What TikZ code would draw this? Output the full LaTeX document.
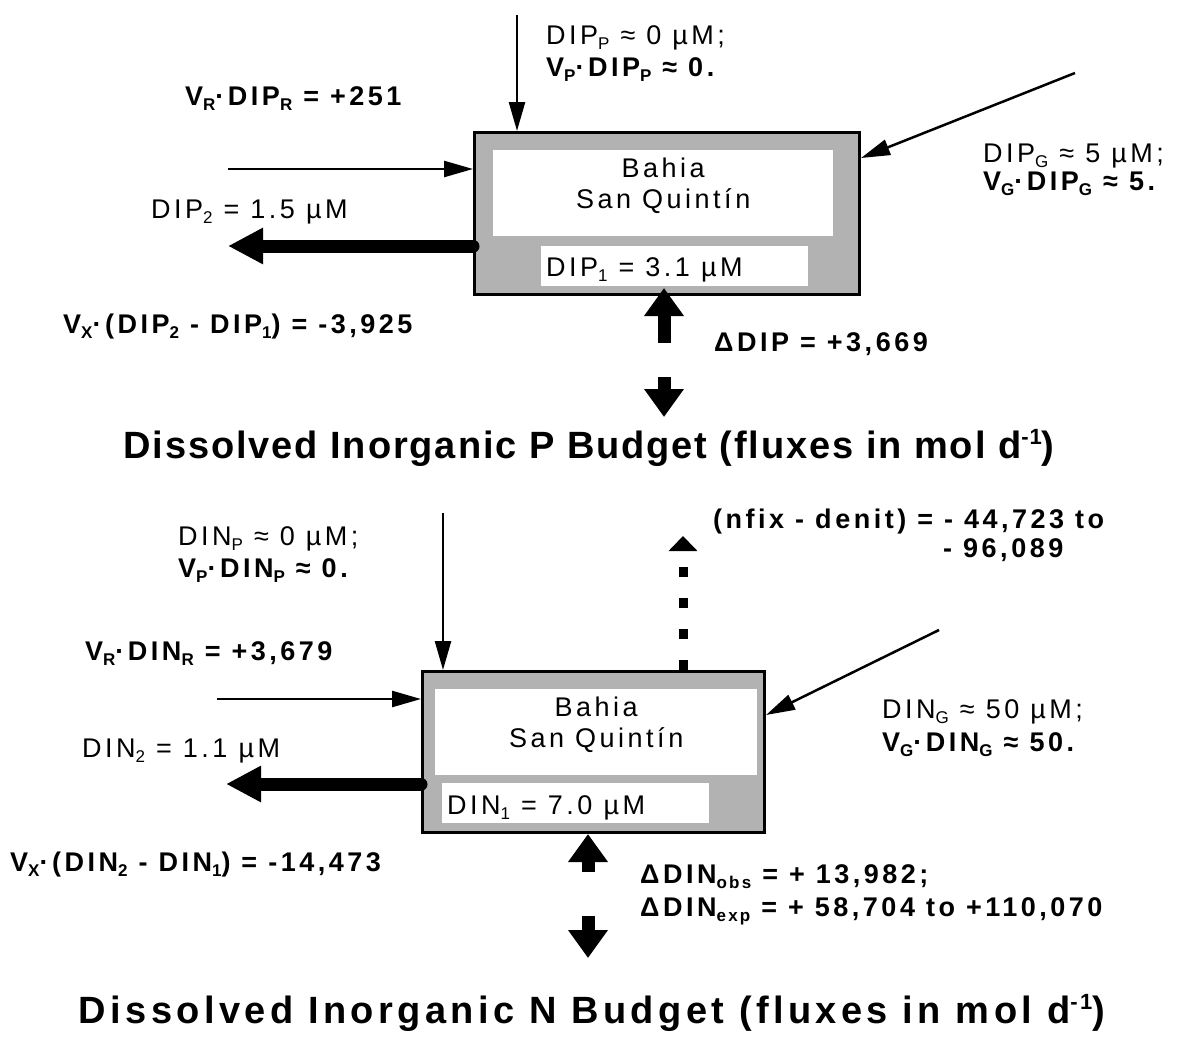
\documentclass[tikz,border=0pt]{standalone}
\usepackage{fontspec}
\setmainfont{Liberation Sans}
\newfontfamily\bayfont[LetterSpace=13]{Liberation Sans}
\newfontfamily\headfont[LetterSpace=5]{Liberation Sans}
\newfontfamily\headfontN[LetterSpace=11.5]{Liberation Sans}
\usetikzlibrary{calc,positioning,arrows.meta}
\newcommand\lo[1]{\raisebox{-5pt}{\fontsize{17}{17}\selectfont #1}}
\newcommand\hi[1]{\raisebox{14pt}{\fontsize{22}{22}\selectfont #1}}

\begin{document}
\begin{tikzpicture}[x=1pt,y=-1pt,
  bay/.style={draw,line width=3pt,fill=gray!60,anchor=north west,inner sep=0pt},
  pane/.style={fill=white,anchor=north west,inner sep=0pt},
  lbl/.style={font=\bayfont\fontsize{27}{31}\selectfont,anchor=base west,inner sep=0pt},
  blbl/.style={lbl,font=\bayfont\fontsize{27}{31}\selectfont\bfseries},
  flow/.style={line width=2.5pt,-{Triangle[length=29pt,width=16pt]}},
  bigflow/.style={line width=13pt,-{Triangle[length=28pt,width=38pt]}},
  mixflow/.style={bigflow,line cap=round,-{Triangle[length=35pt,width=34pt]}},
  fixflow/.style={line width=9pt,dash pattern=on 10pt off 21pt,-{Triangle[length=15pt,width=28pt]}}]

\useasboundingbox (0,0) rectangle (1177,1041);

% ---- DIP budget ----
\node[bay,minimum width=385pt,minimum height=162pt] (boxP) at (473,131) {};
\node[pane,minimum width=340pt,minimum height=86pt] (nameP) at (493,150) {};
\node[pane,minimum width=267pt,minimum height=40pt] (concP) at (541,246) {};
\node[lbl,align=center,below=8pt of nameP.north] (bayP) {Bahia\\San Quintín};
\node[lbl] (c1P) at (546,276) {DIP\lo{1} = 3.1 µM};

\coordinate (rainP) at (517,15);
\draw[flow] (rainP) -- (rainP |- boxP.north);
\coordinate (riverP) at (228,169);
\draw[flow] (riverP) -- (riverP -| boxP.west);
\coordinate (oceanP) at (228,246);
\draw[mixflow] (oceanP -| boxP.west) -- (oceanP);
\coordinate (gwP) at (1075,73);
\draw[flow] (gwP) -- ([yshift=-27pt]boxP.north east);
\coordinate (sinkP) at (664,343);
\draw[bigflow] (sinkP) -- ([yshift=8pt]sinkP |- boxP.south);
\coordinate (outP) at (664,377);
\coordinate (outPend) at (664,417);
\draw[bigflow] (outP) -- (outPend);

\node[lbl] (dipP) at (546,45) {DIP\lo{P} ≈ 0 µM;};
\node[blbl] (vpP) at (546,77) {V\lo{P}·DIP\lo{P} ≈ 0.};
\node[blbl] (vrP) at (185,105) {V\lo{R}·DIP\lo{R} = +251};
\node[lbl] (dip2) at (151,218) {DIP\lo{2} = 1.5 µM};
\node[blbl] (vxP) at (63,333) {V\lo{X}·(DIP\lo{2} - DIP\lo{1}) = -3,925};
\node[blbl] (dDIP) at (714,351) {ΔDIP = +3,669};
\node[lbl] (dipG) at (983,162) {DIP\lo{G} ≈ 5 µM;};
\node[blbl] (vgP) at (983,190) {V\lo{G}·DIP\lo{G} ≈ 5.};
\node[font=\headfont\fontsize{38}{42}\selectfont\bfseries,anchor=base,inner sep=0pt] (titleP) at (589,458) {Dissolved Inorganic P Budget (fluxes in mol d\hi{-1})};

% ---- DIN budget ----
\node[bay,minimum width=342pt,minimum height=161pt] (boxN) at (421,670) {};
\node[pane,minimum width=322pt,minimum height=86pt] (nameN) at (435,689) {};
\node[pane,minimum width=267pt,minimum height=40pt] (concN) at (442,783) {};
\node[lbl,align=center,below=8pt of nameN.north] (bayN) {Bahia\\San Quintín};
\node[lbl] (c1N) at (447,814) {DIN\lo{1} = 7.0 µM};

\coordinate (rainN) at (443,513);
\draw[flow] (rainN) -- (rainN |- boxN.north);
\coordinate (riverN) at (217,699);
\draw[flow] (riverN) -- (riverN -| boxN.west);
\coordinate (oceanN) at (226,784);
\draw[mixflow] (oceanN -| boxN.west) -- (oceanN);
\coordinate (gwN) at (939,630);
\draw[flow] (gwN) -- ([yshift=-45pt]boxN.north east);
\coordinate (fixN) at (683,536);
\draw[fixflow] (fixN |- boxN.north) -- (fixN);
\coordinate (sinkN) at (588,872);
\draw[bigflow] (sinkN) -- (sinkN |- boxN.south);
\coordinate (outN) at (588,916);
\coordinate (outNend) at (588,958);
\draw[bigflow] (outN) -- (outNend);

\node[lbl] (dinP) at (178,545) {DIN\lo{P} ≈ 0 µM;};
\node[blbl] (vpN) at (178,577) {V\lo{P}·DIN\lo{P} ≈ 0.};
\node[blbl] (vrN) at (85,660) {V\lo{R}·DIN\lo{R} = +3,679};
\node[lbl] (din2) at (82,757) {DIN\lo{2} = 1.1 µM};
\node[blbl] (vxN) at (10,871) {V\lo{X}·(DIN\lo{2} - DIN\lo{1}) = -14,473};
\node[blbl] (fixA) at (713,528) {(nfix - denit) = - 44,723 to};
\node[blbl] (fixB) at (943,557) {- 96,089};
\node[lbl] (dinG) at (882,718) {DIN\lo{G} ≈ 50 µM;};
\node[blbl] (vgN) at (882,751) {V\lo{G}·DIN\lo{G} ≈ 50.};
\node[blbl] (dobs) at (640,883) {ΔDIN\lo{obs} = + 13,982;};
\node[blbl] (dexp) at (640,916) {ΔDIN\lo{exp} = + 58,704 to +110,070};
\node[font=\headfontN\fontsize{38}{42}\selectfont\bfseries,anchor=base,inner sep=0pt] (titleN) at (592,1023) {Dissolved Inorganic N Budget (fluxes in mol d\hi{-1})};
\end{tikzpicture}
\end{document}
